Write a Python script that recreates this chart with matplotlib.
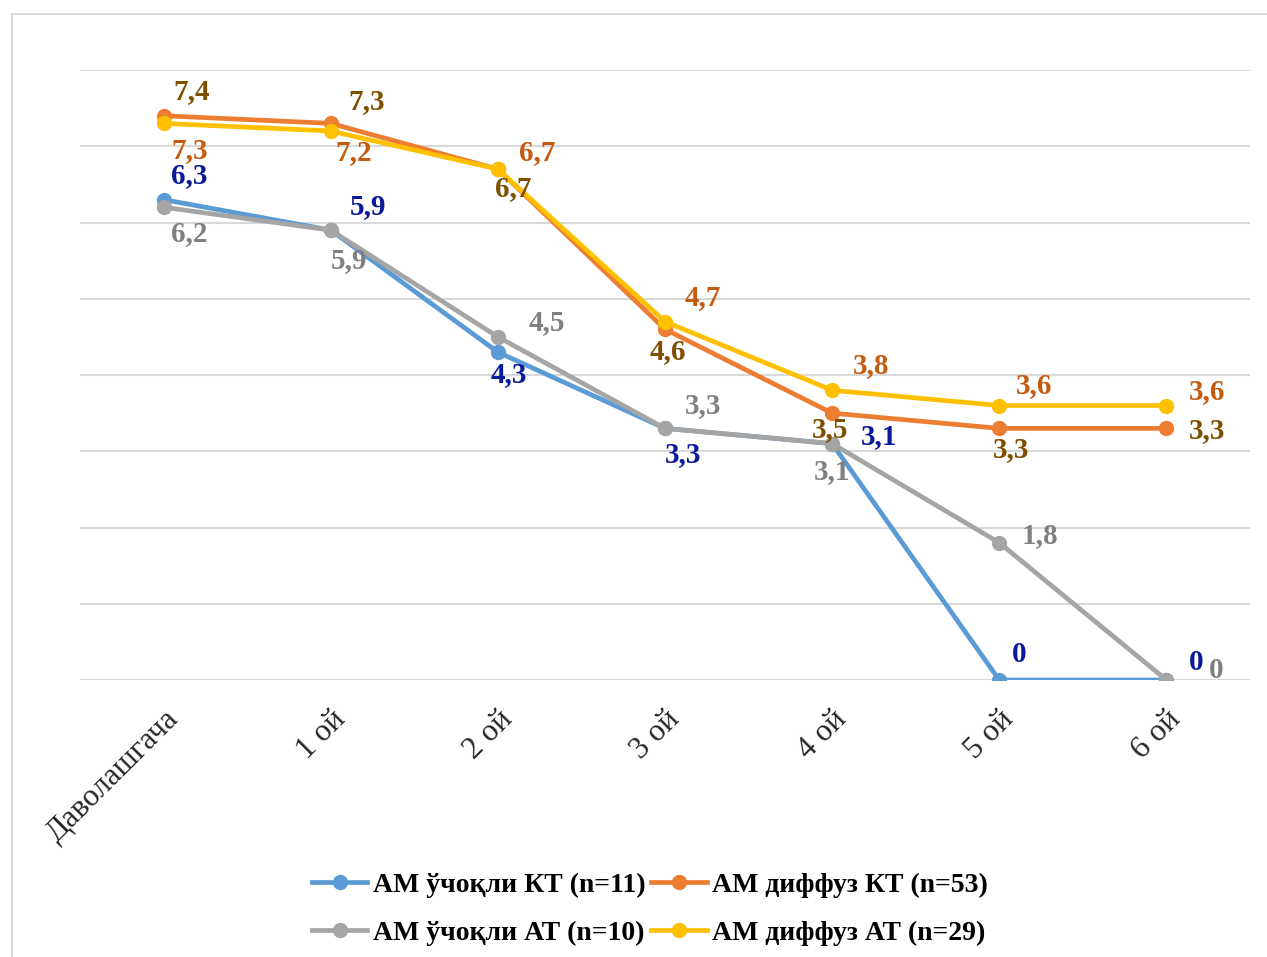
import matplotlib.pyplot as plt
from matplotlib.patches import Rectangle

# data
categories = ['Даволашгача', '1 ой', '2 ой', '3 ой', '4 ой', '5 ой', '6 ой']
focal_kt = [6.3, 5.9, 4.3, 3.3, 3.1, 0, 0]
diffuse_kt = [7.4, 7.3, 6.7, 4.6, 3.5, 3.3, 3.3]
focal_at = [6.2, 5.9, 4.5, 3.3, 3.1, 1.8, 0]
diffuse_at = [7.3, 7.2, 6.7, 4.7, 3.8, 3.6, 3.6]
names = ['АМ ўчоқли КТ (n=11)', 'АМ диффуз КТ (n=53)',
         'АМ ўчоқли АТ (n=10)', 'АМ диффуз АТ (n=29)']

# styles
line_colors = ['#5b9bd5', '#ed7d31', '#a5a5a5', '#ffc000']
label_colors = ['#0a1a9c', '#7f4f00', '#808080', '#c55a11']
# label offsets in pixels (dx, dy) relative to the point, y up
offsets = [
    [(26, 24), (37, 24), (11, -22), (18, -26), (47, 7), (20, 25), (30, 18)],
    [(28, 24), (36, 22), (15, -19), (3, -22), (-2, -16), (12, -21), (41, -2)],
    [(26, -26), (18, -30), (49, 14), (38, 23), (0, -28), (41, 7), (50, 9)],
    [(26, -27), (23, -22), (39, 17), (38, 24), (39, 25), (35, 20), (41, 14)],
]

plt.rcParams['font.family'] = ['Liberation Serif', 'DejaVu Serif']

fig = plt.figure(figsize=(12.67, 9.57), dpi=100)
ax = fig.add_axes([80 / 1267, 277 / 957, 1170 / 1267, 610 / 957])

# outer frame of the chart
fig.patches.append(Rectangle((12 / 1267, -0.05), 1.1, 1 - 14 / 957 + 0.05,
                             transform=fig.transFigure, fill=False,
                             edgecolor='#d9d9d9', linewidth=1.5))

x = list(range(len(categories)))
series = [focal_kt, diffuse_kt, focal_at, diffuse_at]
handles = []
for i, vals in enumerate(series):
    h, = ax.plot(x, vals, color=line_colors[i], linewidth=3.4, marker='o',
                 markersize=10, label=names[i], zorder=3 + i)
    handles.append(h)
    for j, v in enumerate(vals):
        txt = ('%g' % v).replace('.', ',')
        ax.annotate(txt, (j, v), xytext=offsets[i][j], textcoords='offset pixels',
                    ha='center', va='center', fontsize=21, fontweight='bold',
                    color=label_colors[i], zorder=10)

ax.set_xlim(-0.5, 6.5)
ax.set_ylim(0, 8)
ax.set_yticks(range(0, 9))
ax.set_yticklabels([])
ax.tick_params(axis='y', length=0)
ax.tick_params(axis='x', length=0, pad=18)
ax.set_xticks(x)
ax.set_xticklabels(categories, rotation=45, ha='right', va='top',
                   rotation_mode='anchor', fontsize=22.5, color='#262626')
ax.grid(axis='y', color='#d9d9d9', linewidth=1.5)
ax.set_axisbelow(True)
for s in ax.spines.values():
    s.set_visible(False)

leg = fig.legend([handles[0], handles[2], handles[1], handles[3]],
                 [names[0], names[2], names[1], names[3]],
                 loc='center', bbox_to_anchor=(650 / 1267, 1 - 909 / 957),
                 ncol=2, frameon=False, handlelength=2.0, handletextpad=0.2,
                 columnspacing=0.2, labelspacing=0.8,
                 prop={'weight': 'bold', 'size': 20})

fig.savefig('out.png', dpi=100)
